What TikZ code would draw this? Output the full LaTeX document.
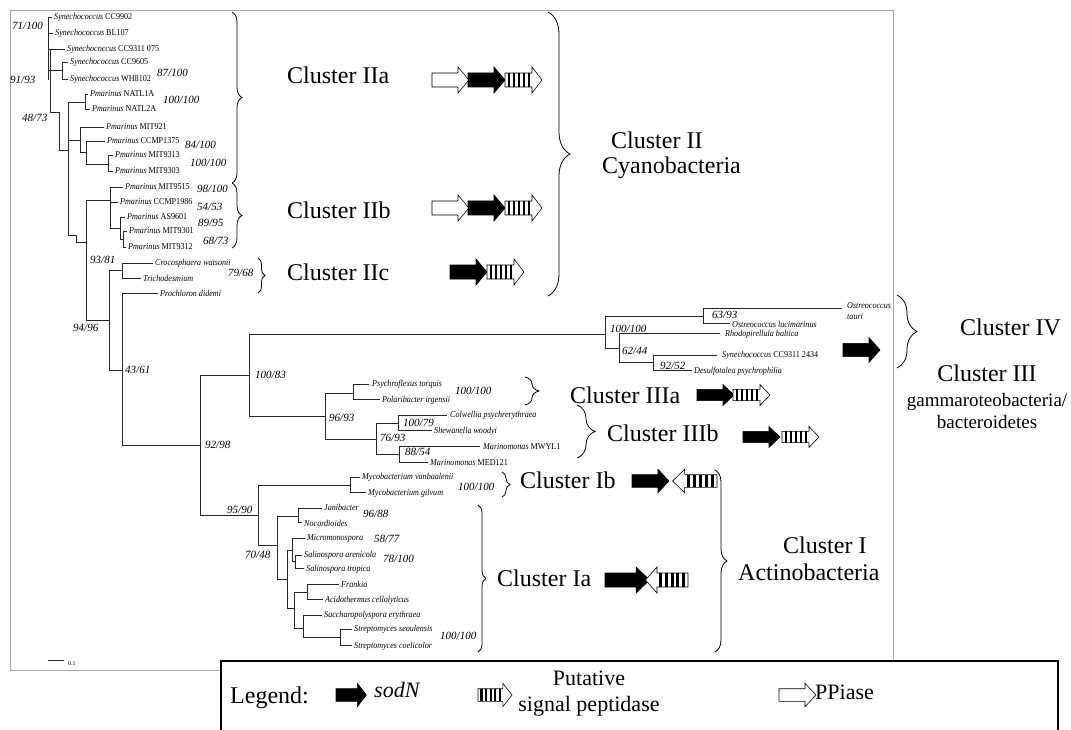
\documentclass[tikz,border=0pt]{standalone}
\usepackage{fontspec}
\setmainfont{Liberation Serif}
\newfontfamily\leaffont{Liberation Serif}[FakeStretch=0.9]
\usetikzlibrary{decorations.pathreplacing, positioning}

\newcommand{\taxon}[2]{\textit{#1} #2}

\tikzset{
  br/.style={line width=0.8pt, black!85},
  leaf/.style={anchor=west, inner sep=0pt, font=\leaffont\fontsize{9}{9.5}\selectfont},
  boot/.style={anchor=west, inner sep=0pt, font=\fontsize{11}{12}\selectfont\itshape},
  clus/.style={anchor=west, inner sep=0pt, font=\fontsize{24}{28}\selectfont},
  curly/.style={decorate, decoration={brace, amplitude=#1}, line width=0.8pt},
  sodn arrow/.pic={\filldraw[line width=0.6pt] (0,-7) -- (26,-7) -- (26,-13) -- (37,0) -- (26,13) -- (26,7) -- (0,7) -- cycle;},
  ppi arrow/.pic={\draw[fill=white, line width=0.6pt] (0,-7) -- (26,-7) -- (26,-13) -- (37,0) -- (26,13) -- (26,7) -- (0,7) -- cycle;},
  spase arrow/.pic={
    \draw[fill=white, line width=0.6pt] (0,-7) -- (27,-7) -- (27,-13) -- (37,0) -- (27,13) -- (27,7) -- (0,7) -- cycle;
    \foreach \s in {2.5,7.5,...,22.5} \fill (\s,-7) rectangle ++(2.6,14);
  },
}

\begin{document}
\begin{tikzpicture}[x=1pt, y=-1pt]
\useasboundingbox (0,0) rectangle (1071,730);

% frame round the tree
\draw[black!35, line width=0.6pt] (221,670) -- (10,670) -- (10,10) -- (893,10) -- (893,661);

% --- Cyanobacteria ---
\draw[br] (52,17) -| (48,80);
\draw[br] (48,33) -- (53,33);
\draw[br] (48,49) -- (65,49);
\draw[br] (48,70) -- (62,70);
\draw[br] (68,62) -| (62,79) -- (68,79);
\draw[br] (50,49) -- (50,112) -- (59,112);
\draw[br] (59,112) -- (59,150) -- (68,150);
\draw[br] (88,94) -| (85,109) -- (90,109);
\draw[br] (85,102) -| (68,235) -- (76,235) -- (76,242) -- (86,242);
\draw[br] (68,140) -- (80,140);
\draw[br] (104,127) -| (80,152) -- (86,152);
\draw[br] (105,141) -| (86,164) -- (108,164);
\draw[br] (113,155) -| (108,171) -- (113,171);
\draw[br] (110,200) -| (86,320) -- (109,320);
\draw[br] (123,187) -| (110,228) -- (120,228);
\draw[br] (110,202) -- (118,202);
\draw[br] (125,217) -| (120,239) -- (123,239);
\draw[br] (127,231) -| (123,247) -- (126,247);
\draw[br] (122,270) -| (109,370) -- (122,370);
\draw[br] (153,263) -| (122,278) -- (141,278);
\draw[br] (158,293) -| (122,445) -- (200,445);

% --- clusters IV and III ---
\draw[br] (249,375) -| (200,515) -- (258,515);
\draw[br] (605,334) -| (249,416) -- (325,416);
\draw[br] (703,316) -| (605,348) -- (619,348);
\draw[br] (842,308) -| (703,323) -- (730,323);
\draw[br] (720,333) -| (619,362) -- (653,362);
\draw[br] (717,355) -| (653,370) -- (692,370);
\draw[br] (353,393) -| (325,439) -- (376,439);
\draw[br] (369,384) -| (353,399) -- (380,399);
\draw[br] (398,423) -| (376,454) -- (399,454);
\draw[br] (447,415) -| (398,430) -- (432,430);
\draw[br] (480,446) -| (399,462) -- (428,462);

% --- Actinobacteria ---
\draw[br] (350,485) -| (258,545) -- (277,545);
\draw[br] (360,477) -| (350,492) -- (366,492);
\draw[br] (298,516) -| (277,579) -- (287,579);
\draw[br] (322,508) -| (298,522) -- (302,522);
\draw[br] (292,550) -| (287,608) -- (294,608);
\draw[br] (305,538) -| (292,561) -- (295,561);
\draw[br] (302,555) -| (295,568) -- (304,568);
\draw[br] (307,592) -| (294,628) -- (303,628);
\draw[br] (339,584) -| (307,599) -- (323,599);
\draw[br] (322,615) -| (303,637) -- (340,637);
\draw[br] (352,629) -| (340,645) -- (352,645);

% leaves
\node[leaf] (cc9902) at (54,17) {\taxon{Synechococcus}{CC9902}};
\node[leaf] (bl107) at (55,33) {\taxon{Synechococcus}{BL107}};
\node[leaf] (cc9311a) at (67,49) {\taxon{Synechococcus}{CC9311 075}};
\node[leaf] (cc9605) at (70,62) {\taxon{Synechococcus}{CC9605}};
\node[leaf] (wh8102) at (70,79) {\taxon{Synechococcus}{WH8102}};
\node[leaf] (natl1a) at (90,94) {\taxon{Pmarinus}{NATL1A}};
\node[leaf] (natl2a) at (92,109) {\taxon{Pmarinus}{NATL2A}};
\node[leaf] (mit921) at (106,127) {\taxon{Pmarinus}{MIT921}};
\node[leaf] (ccmp1375) at (107,141) {\taxon{Pmarinus}{CCMP1375}};
\node[leaf] (mit9313) at (115,155) {\taxon{Pmarinus}{MIT9313}};
\node[leaf] (mit9303) at (115,171) {\taxon{Pmarinus}{MIT9303}};
\node[leaf] (mit9515) at (125,187) {\taxon{Pmarinus}{MIT9515}};
\node[leaf] (ccmp1986) at (120,202) {\taxon{Pmarinus}{CCMP1986}};
\node[leaf] (as9601) at (127,217) {\taxon{Pmarinus}{AS9601}};
\node[leaf] (mit9301) at (129,231) {\taxon{Pmarinus}{MIT9301}};
\node[leaf] (mit9312) at (128,247) {\taxon{Pmarinus}{MIT9312}};
\node[leaf] (croco) at (155,263) {\textit{Crocosphaera watsonii}};
\node[leaf] (tricho) at (143,278) {\textit{Trichodesmium}};
\node[leaf] (prochl) at (160,293) {\textit{Prochloron didemi}};
\node[leaf, align=left] (otauri) at (847,311) {\textit{Ostreococcus}\\[2pt]\textit{tauri}};
\node[leaf] (oluci) at (732,324) {\textit{Ostreococcus lucimarinus}};
\node[leaf] (rhodo) at (725,334) {\textit{Rhodopirellula baltica}};
\node[leaf] (cc9311b) at (722,355) {\taxon{Synechococcus}{CC9311 2434}};
\node[leaf] (desulfo) at (694,371) {\textit{Desulfotalea psychrophilia}};
\node[leaf] (psychro) at (372,384) {\textit{Psychroflexus torquis}};
\node[leaf] (polari) at (382,400) {\textit{Polaribacter irgensii}};
\node[leaf] (colw) at (450,415) {\textit{Colwellia psychrerythraea}};
\node[leaf] (shew) at (434,431) {\textit{Shewanella woodyi}};
\node[leaf] (mwyl) at (483,447) {\taxon{Marinomonas}{MWYL1}};
\node[leaf] (med121) at (430,463) {\taxon{Marinomonas}{MED121}};
\node[leaf] (mvanb) at (362,477) {\textit{Mycobacterium vanbaalenii}};
\node[leaf] (mgilv) at (368,493) {\textit{Mycobacterium gilvum}};
\node[leaf] (jani) at (324,507) {\textit{Janibacter}};
\node[leaf] (nocar) at (304,523) {\textit{Nocardioides}};
\node[leaf] (micro) at (307,538) {\textit{Micromonospora}};
\node[leaf] (sarena) at (304,555) {\textit{Salinospora arenicola}};
\node[leaf] (stropi) at (306,569) {\textit{Salinospora tropica}};
\node[leaf] (frank) at (341,584) {\textit{Frankia}};
\node[leaf] (acido) at (325,600) {\textit{Acidothermus cellolyticus}};
\node[leaf] (sacch) at (324,615) {\textit{Saccharopolyspora erythraea}};
\node[leaf] (sseoul) at (354,629) {\textit{Streptomyces seoulensis}};
\node[leaf] (scoel) at (354,646) {\textit{Streptomyces coelicolor}};

% bootstrap values
\node[boot] (b1) at (12,26) {71/100};
\node[boot] (b2) at (10,80) {91/93};
\node[boot] (b3) at (22,118) {48/73};
\node[boot] (b4) at (157,73) {87/100};
\node[boot] (b5) at (163,100) {100/100};
\node[boot] (b6) at (185,145) {84/100};
\node[boot] (b7) at (190,163) {100/100};
\node[boot] (b8) at (197,189) {98/100};
\node[boot] (b9) at (197,207) {54/53};
\node[boot] (b10) at (198,223) {89/95};
\node[boot] (b11) at (203,241) {68/73};
\node[boot] (b12) at (90,260) {93/81};
\node[boot] (b13) at (228,273) {79/68};
\node[boot] (b14) at (73,328) {94/96};
\node[boot] (b15) at (125,370) {43/61};
\node[boot] (b16) at (255,375) {100/83};
\node[boot] (b17) at (205,445) {92/98};
\node[boot] (b18) at (610,329) {100/100};
\node[boot] (b19) at (712,315) {63/93};
\node[boot] (b20) at (622,351) {62/44};
\node[boot] (b21) at (660,366) {92/52};
\node[boot] (b22) at (455,391) {100/100};
\node[boot] (b23) at (329,418) {96/93};
\node[boot] (b24) at (403,423) {100/79};
\node[boot] (b25) at (380,438) {76/93};
\node[boot] (b26) at (405,452) {88/54};
\node[boot] (b27) at (458,487) {100/100};
\node[boot] (b28) at (227,510) {95/90};
\node[boot] (b29) at (245,555) {70/48};
\node[boot] (b30) at (363,514) {96/88};
\node[boot] (b31) at (374,539) {58/77};
\node[boot] (b32) at (383,559) {78/100};
\node[boot] (b33) at (440,636) {100/100};

% scale bar
\draw[br] (48,660) -- (64,660);
\node[anchor=west, inner sep=0pt, font=\fontsize{6}{7}\selectfont] (scale) at (68,664) {0.1};

% braces
\draw[curly=10] (232,12) -- (232,183);
\draw[curly=10] (232,183) -- (232,248);
\draw[curly=7] (258,258) -- (258,293);
\draw[curly=22] (548,12) -- (548,296);
\draw[curly=20] (897,295) -- (897,368);
\draw[curly=14] (525,377) -- (525,405);
\draw[curly=18] (577,405) -- (577,458);
\draw[curly=8] (502,472) -- (502,497);
\draw[curly=8] (478,505) -- (478,652);
\draw[curly=12] (715,470) -- (715,652);

% cluster names
\node[clus] (c2a) at (287,75) {Cluster IIa};
\node[clus] (c2b) at (287,210) {Cluster IIb};
\node[clus] (c2c) at (287,272) {Cluster IIc};
\node[clus] (c2) at (611,140) {Cluster II};
\node[clus] (cyano) at (602,168) {Cyanobacteria};
\node[clus] (c4) at (960,327) {Cluster IV};
\node[clus] (c3a) at (570,395) {Cluster IIIa};
\node[clus] (c3b) at (607,433) {Cluster IIIb};
\node[clus, anchor=center] (c3) at (987,373) {Cluster III};
\node[anchor=center, inner sep=0pt, font=\fontsize{19}{22}\selectfont, align=center] (gamma) at (987,411) {gammaroteobacteria/\\bacteroidetes};
\node[clus] (c1b) at (520,480) {Cluster Ib};
\node[clus] (c1a) at (497,578) {Cluster Ia};
\node[clus] (c1) at (783,545) {Cluster I};
\node[clus] (actino) at (738,572) {Actinobacteria};

% gene arrows
\pic at (432,80) {ppi arrow};
\pic at (468,80) {sodn arrow};
\pic at (505,80) {spase arrow};
\pic at (432,208) {ppi arrow};
\pic at (468,208) {sodn arrow};
\pic at (505,208) {spase arrow};
\pic at (450,272) {sodn arrow};
\pic at (487,272) {spase arrow};
\pic[yscale=0.95] at (843,350) {sodn arrow};
\pic[yscale=0.8] at (697,395) {sodn arrow};
\pic[yscale=0.8] at (733,395) {spase arrow};
\pic[yscale=0.8] at (743,437) {sodn arrow};
\pic[yscale=0.8] at (782,437) {spase arrow};
\pic[yscale=0.9] at (632,481) {sodn arrow};
\pic[xscale=-1.2, yscale=0.9] at (717,481) {spase arrow};
\pic[xscale=1.2, yscale=1] at (605,580) {sodn arrow};
\pic[xscale=-1.15, yscale=1] at (688,580) {spase arrow};

% legend
\draw[line width=1.2pt] (221,730) -- (221,661) -- (1058,661) -- (1058,730);
\node[clus] (legend) at (230,698) {Legend:};
\pic[xscale=0.82, yscale=0.9] at (336,695) {sodn arrow};
\node[clus, font=\fontsize{22}{26}\selectfont\itshape] (sodn) at (374,690) {sodN};
\pic[xscale=0.92, yscale=0.9] at (478,695) {spase arrow};
\node[anchor=center, inner sep=0pt, font=\fontsize{22}{26}\selectfont, align=center] (spase) at (589,694) {Putative\\signal peptidase};
\pic[yscale=0.9] at (779,695) {ppi arrow};
\node[clus, font=\fontsize{22}{26}\selectfont] (ppiase) at (815,692) {PPiase};
\end{tikzpicture}
\end{document}
